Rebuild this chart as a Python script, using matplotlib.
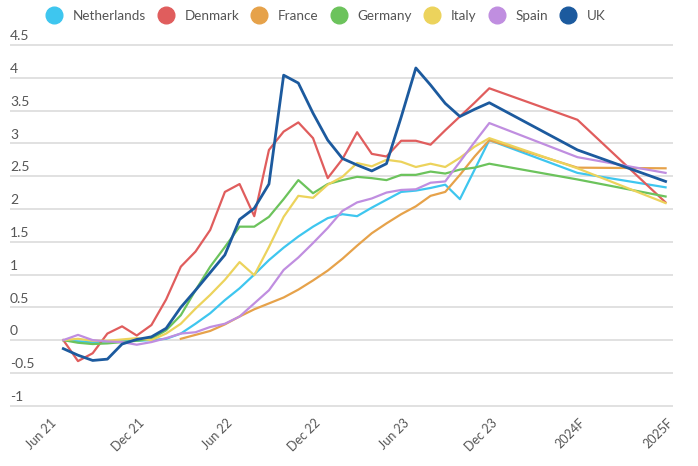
import numpy as np
import matplotlib.pyplot as plt
from matplotlib.lines import Line2D
from matplotlib.transforms import ScaledTranslation

plt.rcParams["font.family"] = ["Lato", "DejaVu Sans"]

# monthly points Jun 21 .. Nov 23, then the two forecast points
periods = list(range(30)) + [35, 41]
tick_pos = [0, 6, 12, 18, 24, 30, 36, 42]
tick_labels = ["Jun 21", "Dec 21", "Jun 22", "Dec 22", "Jun 23", "Dec 23", "2024F", "2025F"]
y_ticks = [4.5, 4, 3.5, 3, 2.5, 2, 1.5, 1, 0.5, 0, -0.5, -1]

nan = np.nan
netherlands = [0.0, -0.02, -0.03, -0.02, -0.01, -0.01, 0.0, 0.02, 0.10, 0.25,
               0.41, 0.61, 0.79, 1.00, 1.22, 1.41, 1.58, 1.73, 1.86, 1.92,
               1.89, 2.02, 2.14, 2.26, 2.28, 2.32, 2.37, 2.15, 2.60, 3.05,
               2.55, 2.33]
denmark = [0.0, -0.32, -0.20, 0.10, 0.21, 0.07, 0.23, 0.62, 1.12, 1.35,
           1.68, 2.26, 2.38, 1.89, 2.90, 3.18, 3.32, 3.08, 2.47, 2.76,
           3.17, 2.84, 2.80, 3.04, 3.04, 2.98, 3.20, 3.41, 3.62, 3.84,
           3.36, 2.10]
france = [nan, nan, nan, nan, nan, nan, nan, nan, 0.02, 0.08,
          0.14, 0.24, 0.36, 0.47, 0.56, 0.65, 0.77, 0.91, 1.06, 1.24,
          1.44, 1.63, 1.78, 1.92, 2.04, 2.20, 2.26, 2.52, 2.80, 3.05,
          2.63, 2.62]
germany = [0.0, -0.04, -0.06, -0.05, -0.03, -0.01, 0.02, 0.15, 0.38, 0.76,
           1.12, 1.42, 1.73, 1.73, 1.88, 2.15, 2.44, 2.24, 2.38, 2.44,
           2.49, 2.47, 2.44, 2.52, 2.52, 2.57, 2.54, 2.60, 2.63, 2.69,
           2.45, 2.19]
italy = [0.0, 0.02, -0.01, -0.01, 0.01, 0.03, 0.0, 0.10, 0.25, 0.48,
         0.69, 0.92, 1.19, 0.99, 1.42, 1.88, 2.20, 2.17, 2.37, 2.49,
         2.70, 2.65, 2.75, 2.72, 2.64, 2.69, 2.64, 2.78, 2.95, 3.08,
         2.62, 2.09]
spain = [0.0, 0.08, 0.0, -0.02, -0.03, -0.07, -0.03, 0.03, 0.10, 0.12,
         0.20, 0.25, 0.36, 0.56, 0.76, 1.07, 1.26, 1.48, 1.71, 1.97,
         2.10, 2.16, 2.25, 2.29, 2.30, 2.40, 2.42, 2.72, 3.02, 3.31,
         2.79, 2.55]
uk = [-0.13, -0.23, -0.31, -0.29, -0.06, 0.01, 0.05, 0.18, 0.50, 0.76,
      1.03, 1.30, 1.84, 2.01, 2.38, 4.04, 3.92, 3.46, 3.05, 2.77,
      2.67, 2.58, 2.69, 3.40, 4.15, 3.89, 3.61, 3.41, 3.52, 3.62,
      2.90, 2.42]

series = [
    ("Netherlands", netherlands, "#3ec6ef"),
    ("Denmark", denmark, "#e05d5d"),
    ("France", france, "#e6a24a"),
    ("Germany", germany, "#6cc35c"),
    ("Italy", italy, "#ecd35c"),
    ("Spain", spain, "#c08ee0"),
    ("UK", uk, "#1c5a9e"),
]

text_color = "#555555"

fig = plt.figure(figsize=(6.98, 4.66), dpi=100)
ax = fig.add_axes([0.0143, 0.1294, 0.9666, 0.7740])
x_left, x_grid_end = -3.63, 41.5
ax.set_xlim(x_left, 42.3)
ax.set_ylim(-1, 4.5)

# gridlines with the value written just above each one
ax.hlines(y_ticks, x_left, x_grid_end, color="#dedede", lw=1.3, zorder=0, clip_on=False)
for y in y_ticks:
    ax.text(x_left, y, f"{y:g}", ha="left", va="bottom",
            fontsize=10, color=text_color,
            transform=ax.transData + ScaledTranslation(0, 2 / 72, fig.dpi_scale_trans))

for name, vals, color in series:
    lw = 2.0 if name == "UK" else 1.6
    ax.plot(periods, vals, color=color, lw=lw, solid_joinstyle="round", zorder=2)

for s in ax.spines.values():
    s.set_visible(False)
ax.set_yticks([])
ax.set_xticks(tick_pos)
ax.set_xticklabels(tick_labels, rotation=45, ha="right", rotation_mode="anchor",
                   fontsize=9, color=text_color)
ax.tick_params(axis="x", length=0, pad=8)
offset = ScaledTranslation(-9.5 / 72, 0, fig.dpi_scale_trans)
for lab in ax.get_xticklabels():
    lab.set_transform(lab.get_transform() + offset)

handles = [Line2D([], [], marker="o", linestyle="", markersize=12,
                  markerfacecolor=c, markeredgecolor=c, label=n)
           for n, _, c in series]
fig.legend(handles=handles, loc="upper left", bbox_to_anchor=(0.050, 1.005),
           ncol=7, frameon=False, fontsize=9.7, handlelength=1.0,
           handletextpad=0.9, columnspacing=0.98, labelcolor=text_color)

fig.savefig("out.png", dpi=100)
